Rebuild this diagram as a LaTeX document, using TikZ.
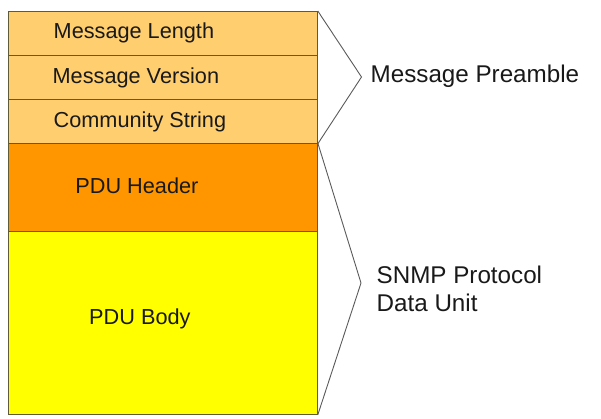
\documentclass[tikz,border=0pt]{standalone}
\usepackage{fontspec}
\setmainfont{Liberation Sans}
\definecolor{preamblecol}{RGB}{255,206,110}
\definecolor{headercol}{RGB}{255,150,0}
\definecolor{bodycol}{RGB}{255,255,0}
\definecolor{boxline}{RGB}{95,90,55}
\definecolor{braceline}{RGB}{90,90,90}
\begin{document}
\begin{tikzpicture}[x=1pt,y=-1pt]
\tikzset{field/.style={draw=boxline,line width=.8pt,minimum width=309pt,anchor=north west,inner sep=0pt},
  ftext/.style={font=\fontsize{21.7}{24}\selectfont,text=black!90,inner sep=0pt},
  side/.style={font=\fontsize{24.2}{28}\selectfont,text=black!90,inner sep=0pt,anchor=west,align=left},
  brace/.style={draw=braceline,line width=.9pt}}
\useasboundingbox (0,0) rectangle (601,419);
% the message fields
\node[field,fill=preamblecol,minimum height=44pt] (len) at (8,11) {};
\node[field,fill=preamblecol,minimum height=44pt] (ver) at (8,55) {};
\node[field,fill=preamblecol,minimum height=44pt] (com) at (8,99) {};
\node[field,fill=headercol,minimum height=88pt] (hdr) at (8,143) {};
\node[field,fill=bodycol,minimum height=183pt] (body) at (8,231) {};
\node[ftext] (lentext) at ([xshift=-29pt,yshift=1pt]len.center) {Message Length};
\node[ftext] (vertext) at ([xshift=-27pt]ver.center) {Message Version};
\node[ftext] (comtext) at ([xshift=-23pt]com.center) {Community String};
\node[ftext] (hdrtext) at ([xshift=-26pt,yshift=2pt]hdr.center) {PDU Header};
\node[ftext] (bodytext) at ([xshift=-23pt,yshift=4pt]body.center) {PDU Body};
% braces
\coordinate (pretip) at (361.5,77);
\coordinate (pdutip) at (361,283);
\draw[brace] (len.north east) -- (pretip) -- (com.south east);
\draw[brace] (hdr.north east) -- (pdutip) -- (body.south east);
\node[side] (pre) at (370.5,76) {Message Preamble};
\node[side] (pdu) at (376.5,289) {SNMP Protocol\\Data Unit};
\end{tikzpicture}
\end{document}
